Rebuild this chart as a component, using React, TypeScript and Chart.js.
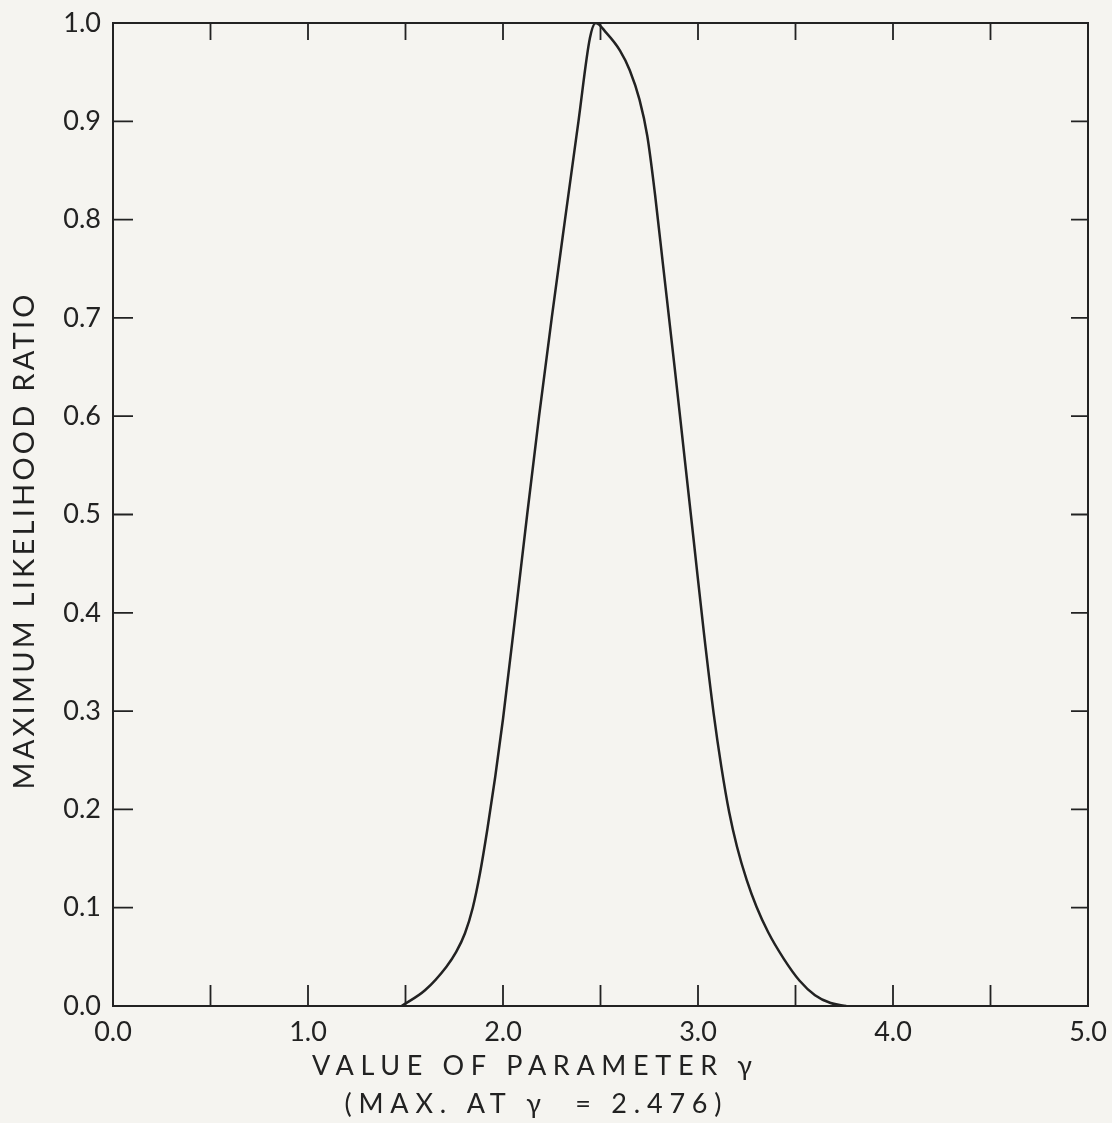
import React, { useEffect, useRef } from "react";
import { Chart, registerables } from "chart.js";

Chart.register(...registerables);

const gammaValues = [
  1.48, 1.6, 1.71, 1.76, 1.805, 1.845, 1.882, 1.92, 1.96, 2.0, 2.065, 2.124, 2.185, 2.25, 2.318, 2.387, 2.446, 2.476,
  2.53, 2.6, 2.65, 2.7, 2.74, 2.78, 2.82, 2.88, 2.93, 2.98, 3.03, 3.08, 3.12, 3.16, 3.2, 3.25, 3.3, 3.36, 3.44, 3.52, 3.6, 3.68, 3.76,
];
const ratioValues = [
  0.0, 0.016, 0.04, 0.055, 0.074, 0.1, 0.135, 0.18, 0.233, 0.292, 0.4, 0.5, 0.6, 0.7, 0.8, 0.9, 0.985, 1.0,
  0.99, 0.972, 0.952, 0.922, 0.885, 0.825, 0.755, 0.65, 0.56, 0.47, 0.38, 0.298, 0.243, 0.197, 0.162, 0.128, 0.101, 0.075, 0.048, 0.026, 0.011, 0.003, 0.0,
];
const xTitleLines = ["VALUE OF PARAMETER γ", "(MAX. AT γ  = 2.476)"];
const yTitle = "MAXIMUM LIKELIHOOD RATIO";

const INK = "#222222";
const PAPER = "#f5f4f0";
const FONT = "Lato, 'DejaVu Sans', sans-serif";

function drawSpaced(ctx: CanvasRenderingContext2D, text: string, cx: number, cy: number, target: number) {
  ctx.letterSpacing = "0px";
  const w = ctx.measureText(text).width;
  const n = Array.from(text).length;
  const ls = Math.max(0, (target - w) / Math.max(1, n - 1));
  ctx.letterSpacing = ls + "px";
  ctx.textAlign = "left";
  ctx.textBaseline = "middle";
  ctx.fillText(text, cx - target / 2, cy);
  ctx.letterSpacing = "0px";
}

const framePlugin = {
  id: "frameTicks",
  beforeDraw(chart: any) {
    const { ctx, width, height } = chart;
    ctx.save();
    ctx.fillStyle = PAPER;
    ctx.fillRect(0, 0, width, height);
    ctx.restore();
  },
  afterDraw(chart: any) {
    const { ctx, chartArea } = chart;
    const { left, right, top, bottom } = chartArea;
    const xs = chart.scales.x;
    const ys = chart.scales.y;
    ctx.save();
    ctx.strokeStyle = INK;
    ctx.lineWidth = 2;
    ctx.strokeRect(left, top, right - left, bottom - top);
    ctx.lineWidth = 1.8;
    ctx.beginPath();
    ys.ticks.forEach((t: any) => {
      const py = ys.getPixelForValue(t.value);
      if (t.value <= 0.0001 || t.value >= 0.9999) return;
      ctx.moveTo(left, py);
      ctx.lineTo(left + 20, py);
      ctx.moveTo(right, py);
      ctx.lineTo(right - 17, py);
    });
    xs.ticks.forEach((t: any) => {
      const px = xs.getPixelForValue(t.value);
      if (t.value <= 0.0001 || t.value >= 4.9999) return;
      ctx.moveTo(px, bottom);
      ctx.lineTo(px, bottom - 21);
      ctx.moveTo(px, top);
      ctx.lineTo(px, top + 17);
    });
    ctx.stroke();

    ctx.fillStyle = INK;
    ctx.font = "27px " + FONT;
    drawSpaced(ctx, xTitleLines[0], 532, 1066, 440);
    drawSpaced(ctx, xTitleLines[1], 533, 1104, 377);

    ctx.translate(25, 542);
    ctx.rotate(-Math.PI / 2);
    ctx.font = "29px " + FONT;
    drawSpaced(ctx, yTitle, 0, 0, 495);
    ctx.restore();
  },
};

export default function App() {
  const ref = useRef<HTMLCanvasElement | null>(null);
  useEffect(() => {
    document.body.style.margin = "0";
    document.body.style.background = PAPER;
    if (!ref.current) return;
    const points = gammaValues.map((g, i) => ({ x: g, y: ratioValues[i] }));
    const chart = new Chart(ref.current, {
      type: "line",
      data: {
        datasets: [
          {
            data: points,
            borderColor: INK,
            borderWidth: 2.5,
            pointRadius: 0,
            fill: false,
            cubicInterpolationMode: "monotone",
          } as any,
        ],
      },
      options: {
        animation: false,
        responsive: false,
        maintainAspectRatio: false,
        layout: { padding: { top: 23, right: 24, left: 0, bottom: 0 } },
        plugins: { legend: { display: false }, tooltip: { enabled: false } },
        scales: {
          x: {
            type: "linear",
            min: 0,
            max: 5,
            grid: { display: false, drawTicks: false },
            border: { display: false },
            afterFit: (s: any) => {
              s.height = 117;
              s.paddingLeft = 0;
              s.paddingRight = 0;
            },
            ticks: {
              stepSize: 0.5,
              padding: 10,
              color: INK,
              font: { family: FONT, size: 27 },
              maxRotation: 0,
              autoSkip: false,
              callback: (v: any) => {
                const n = Number(v);
                return Math.abs(n - Math.round(n)) < 1e-6 ? n.toFixed(1) : "";
              },
            },
          },
          y: {
            min: 0,
            max: 1,
            grid: { display: false, drawTicks: false },
            border: { display: false },
            afterFit: (s: any) => {
              s.width = 113;
              s.paddingTop = 0;
              s.paddingBottom = 0;
            },
            ticks: {
              stepSize: 0.1,
              padding: 12,
              color: INK,
              font: { family: FONT, size: 27 },
              autoSkip: false,
              callback: (v: any) => Number(v).toFixed(1),
            },
          },
        },
      },
      plugins: [framePlugin],
    });
    return () => chart.destroy();
  }, []);
  return (
    <div style={{ width: 1112, height: 1123 }}>
      <canvas ref={ref} width={1112} height={1123} style={{ display: "block" }} />
    </div>
  );
}
